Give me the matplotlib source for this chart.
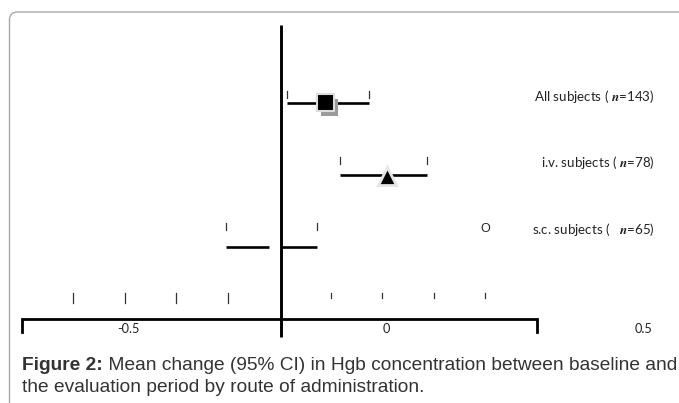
import numpy as np
import matplotlib.pyplot as plt
from matplotlib.patches import FancyBboxPatch
from matplotlib.transforms import IdentityTransform
import matplotlib.patheffects as pe

plt.rcParams['mathtext.fontset'] = 'stix'

groups = ["All subjects", "i.v. subjects", "s.c. subjects"]
n_subjects = [143, 78, 65]
mean_change = [-0.11, 0.01, -0.208]
ci_low = [-0.184, -0.082, -0.303]
ci_high = [-0.025, 0.088, -0.126]
stray_marker_x = 0.2

axis_min, axis_max = -0.7, 0.3
minor_ticks = [-0.6, -0.5, -0.4, -0.3, -0.1, 0.0, 0.1, 0.2]
tick_values = [-0.5, 0, 0.5]
tick_labels = ["-0.5", "0", "0.5"]
ref_line = -0.196

label_font = "Lato"
cap_size = 13.8

fig = plt.figure(figsize=(6.79, 4.03), dpi=100)
ax = fig.add_axes([0, 0, 1, 1])
ax.set_xlim(-382 / 515, (679 - 382) / 515)
ax.set_ylim((403 - 30.55) / 72.15, -30.55 / 72.15)
ax.axis('off')

# rounded frame around figure
frame = FancyBboxPatch((9.5, -30), 720, 391 + 30, boxstyle="round,pad=0,rounding_size=8",
                       transform=IdentityTransform(), fc='none', ec='#a8a8a8', lw=1)
fig.patches.append(frame)

rows = np.arange(1, len(groups) + 1)
label_y = rows * 0.917

# reference line
ax.plot([ref_line, ref_line], [-0.077, 4.247], color='black', lw=2.1, solid_capstyle='butt', zorder=5)

# CI lines and end ticks
for r, lo, hi, ly in zip(rows, ci_low, ci_high, label_y):
    ax.plot([lo, hi], [r, r], color='black', lw=1.9, solid_capstyle='butt', zorder=2)
    for xv in (lo, hi):
        ax.plot([xv, xv], [ly - 0.08, ly + 0.02], color='#333333', lw=0.9, zorder=2)

# markers
shadow = [pe.SimplePatchShadow(offset=(3, -3.5), shadow_rgbFace='#9a9a9a', alpha=1), pe.Normal()]
ax.plot(mean_change[0], rows[0], marker='s', ms=12.5, mfc='black', mec='#dcdcdc', mew=1.5,
        ls='none', zorder=3, path_effects=shadow)
ax.plot(mean_change[1], rows[1] + 0.02, marker='^', ms=12.5, mfc='black', mec='#e6e6e6', mew=2,
        ls='none', zorder=3)
ax.plot(mean_change[2], rows[2], marker='s', ms=8.6, mfc='white', mec='none', ls='none', zorder=3)
ax.text(stray_marker_x, label_y[2], "O", ha='center', va='center', fontsize=9,
        family='Liberation Sans', color='#222222')

# group labels
for g, n, ly in zip(groups, n_subjects, label_y):
    gap = "   " if g.startswith("s.c.") else " "
    ax.text(0.530, ly, f"{g} ({gap}" + r"$\mathbfit{n}$" + f"={n})", ha='right', va='center',
            fontsize=9.6, family=label_font, color='#222222')

# x axis
ax.plot([axis_min, axis_min, axis_max, axis_max], [4.178, 4.0, 4.0, 4.178], color='black',
        lw=2, solid_joinstyle='miter', zorder=4)
for t in minor_ticks:
    top, bottom = 3.638, (3.777 if t < ref_line else 3.707)
    ax.plot([t, t], [top, bottom], color='#333333', lw=0.9)
for v, lab in zip(tick_values, tick_labels):
    ax.text(v + 0.008, 4.137, lab, ha='center', va='center', fontsize=9.2,
            family=label_font, color='#222222')

# caption
cap1 = fig.text(22 / 679, (403 - 370) / 403, "Figure 2:", fontsize=cap_size, weight='bold',
                family='Liberation Sans', color='#333333', va='baseline')
fig.canvas.draw()
ax.annotate(" Mean change (95% CI) in Hgb concentration between baseline and",
            xy=(1, 0), xycoords=cap1, va='bottom', fontsize=cap_size,
            family='Liberation Sans', color='#333333')
fig.text(22 / 679, (403 - 392.5) / 403, "the evaluation period by route of administration.",
         fontsize=cap_size, family='Liberation Sans', color='#333333', va='baseline')

fig.savefig("out.png", dpi=100)
